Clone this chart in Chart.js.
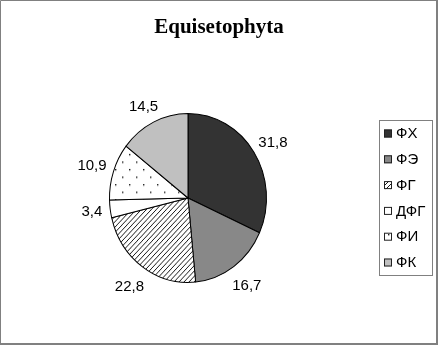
<!DOCTYPE html>
<html>
<head>
<meta charset="utf-8">
<script src="https://cdn.jsdelivr.net/npm/chart.js@4/dist/chart.umd.min.js"></script>
<style>
  body { margin: 0; background: #fff; }
  canvas { display: block; }
</style>
</head>
<body>
<canvas id="pieChart" width="438" height="345"></canvas>
<script>
const chartTitle = "Equisetophyta";
const categories = ["ФХ", "ФЭ", "ФГ", "ДФГ", "ФИ", "ФК"];
const shares = [31.8, 16.7, 22.8, 3.4, 10.9, 14.5];

const yStretch = 85 / 79;

function makeHatch() {
  const c = document.createElement("canvas");
  c.width = 5; c.height = 5;
  const g = c.getContext("2d");
  g.fillStyle = "#fff";
  g.fillRect(0, 0, 5, 5);
  g.strokeStyle = "#000";
  g.lineWidth = 0.9;
  g.beginPath();
  g.moveTo(-1, 6); g.lineTo(6, -1);
  g.moveTo(-1, 1); g.lineTo(1, -1);
  g.moveTo(4, 6); g.lineTo(6, 4);
  g.stroke();
  return g.createPattern(c, "repeat");
}

function makeDots() {
  const c = document.createElement("canvas");
  c.width = 14; c.height = 14;
  const g = c.getContext("2d");
  g.fillStyle = "#fff";
  g.fillRect(0, 0, 14, 14);
  g.fillStyle = "#222";
  g.fillRect(3, 3, 1.4, 1.4);
  g.fillRect(10, 10, 1.4, 1.4);
  return g.createPattern(c, "repeat");
}

const fills = ["#333333", "#888888", makeHatch(), "#ffffff", makeDots(), "#c0c0c0"];
const labelFont = "15px 'Liberation Sans', Arial, sans-serif";

const framePlugin = {
  id: "frame",
  beforeDraw(chart) {
    const ctx = chart.ctx;
    ctx.save();
    ctx.fillStyle = "#fff";
    ctx.fillRect(0, 0, chart.width, chart.height);
    ctx.restore();
  },
  beforeDatasetsDraw(chart) {
    const arc = chart.getDatasetMeta(0).data[0];
    const ctx = chart.ctx;
    ctx.save();
    ctx.translate(arc.x, arc.y);
    ctx.scale(1, yStretch);
    ctx.translate(-arc.x, -arc.y);
  },
  afterDatasetsDraw(chart) {
    const ctx = chart.ctx;
    ctx.restore();

    // slice labels
    ctx.save();
    ctx.font = labelFont;
    ctx.fillStyle = "#000";
    ctx.textAlign = "center";
    ctx.textBaseline = "middle";
    chart.getDatasetMeta(0).data.forEach((arc, i) => {
      const mid = (arc.startAngle + arc.endAngle) / 2;
      const sx = Math.cos(mid), sy = Math.sin(mid);
      const txt = String(shares[i]).replace(".", ",");
      const w = ctx.measureText(txt).width;
      const d = 8;
      const x = arc.x + (arc.outerRadius + d) * sx + (w / 2) * sx;
      const y = arc.y + (arc.outerRadius * yStretch + d) * sy + (sy > 0 ? 16 : 9) * sy;
      ctx.fillText(txt, x, y);
    });
    ctx.restore();

    // title
    ctx.save();
    ctx.font = "bold 21px 'Liberation Serif', 'Times New Roman', serif";
    ctx.fillStyle = "#000";
    ctx.textAlign = "center";
    ctx.textBaseline = "alphabetic";
    ctx.fillText(chartTitle, 219, 33);
    ctx.restore();

    // legend
    ctx.save();
    ctx.strokeStyle = "#808080";
    ctx.lineWidth = 1;
    ctx.strokeRect(379.5, 120.5, 53, 155);
    ctx.font = labelFont;
    ctx.textBaseline = "middle";
    ctx.textAlign = "left";
    categories.forEach((name, i) => {
      const y = 133.5 + i * 25.8;
      ctx.fillStyle = fills[i];
      ctx.fillRect(384, y - 4, 8, 8);
      ctx.strokeStyle = "#222";
      ctx.strokeRect(384.5, y - 3.5, 7, 7);
      ctx.fillStyle = "#000";
      ctx.fillText(name, 396, y + 0.5);
    });
    ctx.restore();

    // outer frame
    ctx.save();
    ctx.strokeStyle = "#808080";
    ctx.lineWidth = 1;
    ctx.beginPath();
    ctx.moveTo(0.5, chart.height); ctx.lineTo(0.5, 0.5); ctx.lineTo(chart.width, 0.5);
    ctx.stroke();
    ctx.lineWidth = 2;
    ctx.beginPath();
    ctx.moveTo(chart.width - 1, 0); ctx.lineTo(chart.width - 1, chart.height - 1); ctx.lineTo(0, chart.height - 1);
    ctx.stroke();
    ctx.restore();
  }
};

const ctx = document.getElementById("pieChart").getContext("2d");
const chart = new Chart(ctx, {
  type: "pie",
  data: {
    labels: categories,
    datasets: [{
      data: shares,
      backgroundColor: fills,
      borderColor: "#000",
      borderWidth: 1,
      hoverOffset: 0,
      hoverBorderWidth: 1
    }]
  },
  options: {
    responsive: false,
    animation: false,
    layout: { padding: { left: 109, right: 171, top: 119, bottom: 68 } },
    plugins: {
      legend: { display: false },
      tooltip: { enabled: false },
      title: { display: false }
    }
  },
  plugins: [framePlugin]
});
</script>
</body>
</html>
